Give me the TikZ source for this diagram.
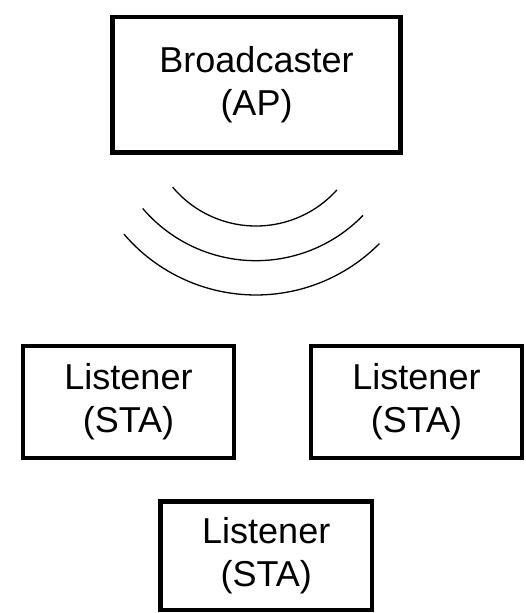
\documentclass[tikz,border=0pt]{standalone}
\usepackage{fontspec}
\setmainfont{Liberation Sans}
\begin{document}
\begin{tikzpicture}[x=1pt,y=-1pt,
  box/.style={draw=black, line width=4.3pt, align=center, inner sep=0pt,
              font=\fontsize{36}{43}\selectfont},
  sta/.style={box, minimum width=211pt, minimum height=112pt},
  wave/.style={line width=1.3pt}]
\useasboundingbox (0,0) rectangle (525,613);

% access point
\node[box, minimum width=288pt, minimum height=135.5pt] (ap) at (256.5,84.75) {Broadcaster\\(AP)};

% radio waves below the access point
\coordinate (w1) at (256,117.2);
\coordinate (w2) at (256,111.7);
\coordinate (w3) at (256,121.3);
\draw[wave] (w1) ++(140:108.8) arc[start angle=140, end angle=42, radius=108.8];
\draw[wave] (w2) ++(139.5:149) arc[start angle=139.5, end angle=44.1, radius=149];
\draw[wave] (w3) ++(139.5:173.7) arc[start angle=139.5, end angle=44.7, radius=173.7];

% stations
\node[sta] (s1) at (128.5,402) {Listener\\(STA)};
\node[sta] (s2) at (416.5,402) {Listener\\(STA)};
\node[sta, minimum width=211.5pt, minimum height=108.5pt] (s3) at (266.25,555.75) {Listener\\(STA)};
\end{tikzpicture}
\end{document}
